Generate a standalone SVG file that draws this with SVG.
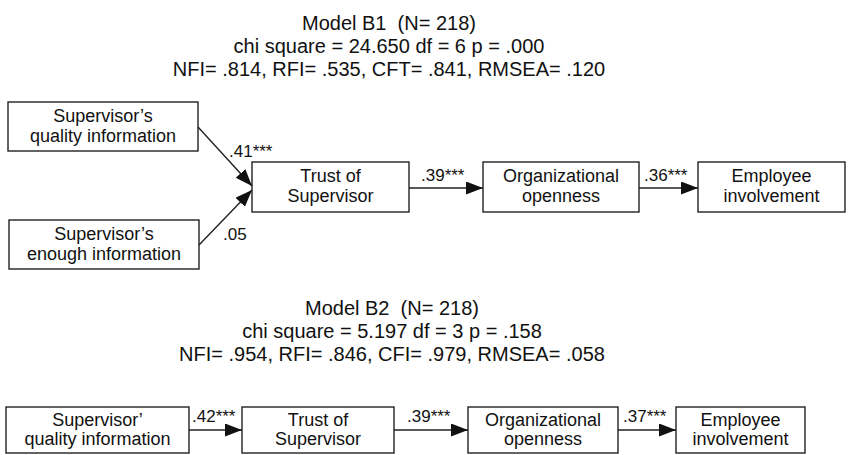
<svg xmlns="http://www.w3.org/2000/svg" width="849" height="455" viewBox="0 0 849 455">
<style>
  .title { font-family: "Liberation Sans", Arial, sans-serif; font-size: 20px; fill: #111; text-anchor: middle; white-space: pre; }
  .node rect { fill: #fff; stroke: #222; stroke-width: 1.4; }
  .node text { font-family: "Liberation Sans", Arial, sans-serif; font-size: 18px; fill: #111; text-anchor: middle; }
  .edge { stroke: #222; stroke-width: 1.4; fill: none; marker-end: url(#arr); }
  .lbl { font-family: "Liberation Sans", Arial, sans-serif; font-size: 17px; fill: #111; }
</style>
<defs>
  <marker id="arr" markerUnits="userSpaceOnUse" markerWidth="18" markerHeight="14" refX="17" refY="6.5" orient="auto">
    <path d="M0,0 L17,6.5 L0,13 z" fill="#111"/>
  </marker>
</defs>
<rect width="849" height="455" fill="#fff"/>

<g id="title-b1">
  <text class="title" x="389" y="30" xml:space="preserve">Model B1  (N= 218)</text>
  <text class="title" x="389" y="53">chi square = 24.650 df = 6 p = .000</text>
  <text class="title" x="389" y="75.5">NFI= .814, RFI= .535, CFT= .841, RMSEA= .120</text>
</g>

<g id="b1-quality" class="node">
  <rect x="8" y="102" width="190" height="49"/>
  <text x="103" y="122">Supervisor’s</text>
  <text x="103" y="142">quality information</text>
</g>
<g id="b1-enough" class="node">
  <rect x="9" y="220" width="190" height="49"/>
  <text x="104" y="240">Supervisor’s</text>
  <text x="104" y="260">enough information</text>
</g>
<g id="b1-trust" class="node">
  <rect x="252" y="162" width="157" height="50"/>
  <text x="330.5" y="182">Trust of</text>
  <text x="330.5" y="202">Supervisor</text>
</g>
<g id="b1-open" class="node">
  <rect x="483" y="162" width="156" height="50"/>
  <text x="561" y="182">Organizational</text>
  <text x="561" y="202">openness</text>
</g>
<g id="b1-involve" class="node">
  <rect x="698" y="162" width="147" height="50"/>
  <text x="771.5" y="182">Employee</text>
  <text x="771.5" y="202">involvement</text>
</g>

<g id="title-b2">
  <text class="title" x="392" y="315" xml:space="preserve">Model B2  (N= 218)</text>
  <text class="title" x="392" y="338">chi square = 5.197 df = 3 p = .158</text>
  <text class="title" x="392" y="361">NFI= .954, RFI= .846, CFI= .979, RMSEA= .058</text>
</g>

<g id="b2-quality" class="node">
  <rect x="6" y="407" width="183" height="46"/>
  <text x="97.5" y="426">Supervisor’</text>
  <text x="97.5" y="445">quality information</text>
</g>
<g id="b2-trust" class="node">
  <rect x="242" y="407" width="152" height="46"/>
  <text x="318" y="426">Trust of</text>
  <text x="318" y="445">Supervisor</text>
</g>
<g id="b2-open" class="node">
  <rect x="468" y="407" width="150" height="46"/>
  <text x="543" y="426">Organizational</text>
  <text x="543" y="445">openness</text>
</g>
<g id="b2-involve" class="node">
  <rect x="676" y="407" width="129" height="46"/>
  <text x="740.5" y="426">Employee</text>
  <text x="740.5" y="445">involvement</text>
</g>

<g id="connectors">
  <path class="edge" d="M198,127 L252,186"/>
  <path class="edge" d="M199,245 L252,190"/>
  <path class="edge" d="M409,188 L483,188"/>
  <path class="edge" d="M639,188 L698,188"/>
  <path class="edge" d="M189,430 L242,430"/>
  <path class="edge" d="M394,430 L468,430"/>
  <path class="edge" d="M618,430 L676,430"/>
  <text class="lbl" x="229" y="157">.41***</text>
  <text class="lbl" x="223" y="240">.05</text>
  <text class="lbl" x="421" y="181">.39***</text>
  <text class="lbl" x="644" y="181">.36***</text>
  <text class="lbl" x="192" y="422">.42***</text>
  <text class="lbl" x="407" y="422">.39***</text>
  <text class="lbl" x="623" y="422">.37***</text>
</g>
</svg>
